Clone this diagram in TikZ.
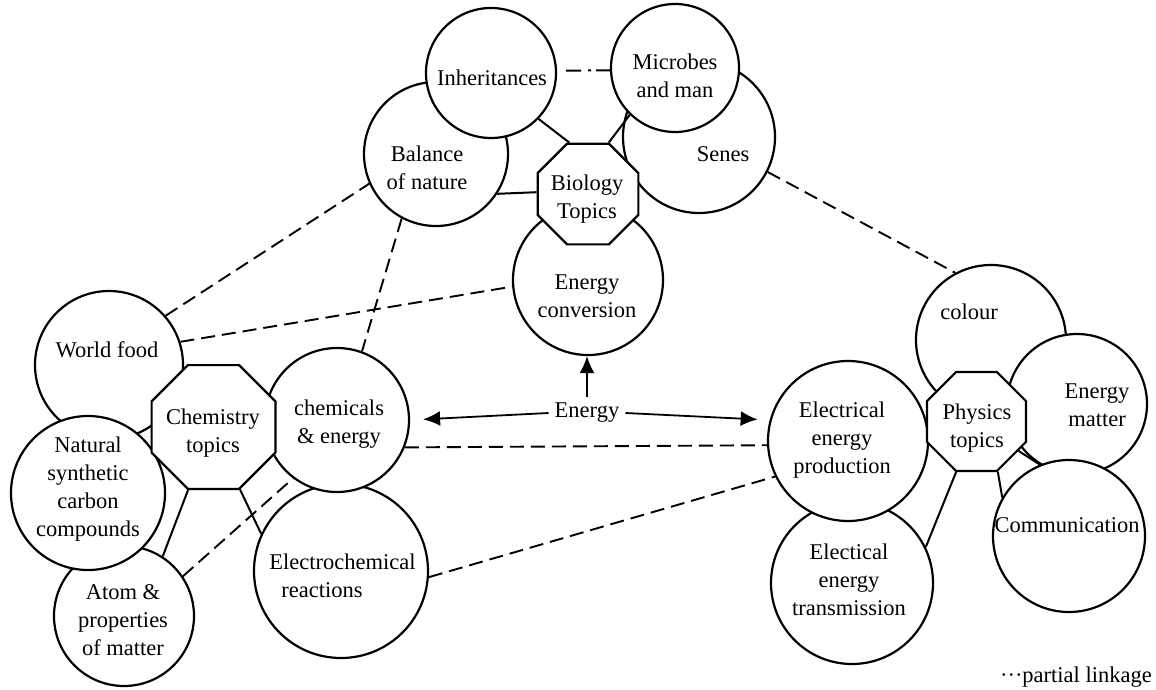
\documentclass[tikz,border=0pt]{standalone}
\usepackage{fontspec}
\setmainfont{Liberation Serif}
\usetikzlibrary{shapes.geometric,arrows.meta}
\begin{document}
\begin{tikzpicture}[x=1pt,y=-1pt,
  circ/.style={circle,draw,fill=white,line width=2.2pt,inner sep=0pt},
  octa/.style={regular polygon,regular polygon sides=8,draw,fill=white,line width=2.2pt,inner sep=0pt},
  lbl/.style={align=center,inner sep=0pt,font=\fontsize{22.5}{28}\selectfont},
  link/.style={line width=2pt},
  part/.style={line width=1.9pt,dash pattern=on 14pt off 7pt},
  arr/.style={line width=1.8pt,-{Latex[length=17pt,width=15pt]}}]
\useasboundingbox (0,0) rectangle (1156,690);
% biology cluster
\node[circ,minimum size=144pt] (bal) at (436,154) {};
\node[circ,minimum size=130pt] (inh) at (491,73) {};
\node[circ,minimum size=152pt] (sen) at (699,137) {};
\node[circ,minimum size=128pt] (mic) at (675,68) {};
\node[circ,minimum size=150pt] (econ) at (588,280) {};
\node[octa,minimum size=109pt] (bio) at (588,194) {};
% chemistry cluster
\node[circ,minimum size=148pt] (wf) at (109,365) {};
\node[circ,minimum size=140pt] (atom) at (124,616) {};
\node[circ,minimum size=154pt] (nat) at (88,493) {};
\node[circ,minimum size=174pt] (ech) at (341,571) {};
\node[circ,minimum size=144pt] (cae) at (337,420) {};
\node[octa,minimum size=134pt] (chem) at (213.5,427) {};
% physics cluster
\node[circ,minimum size=150pt] (col) at (991,340) {};
\node[circ,minimum size=140pt] (em) at (1077,404) {};
\node[circ,minimum size=152pt] (com) at (1069,536) {};
\node[circ,minimum size=162pt] (eet) at (852,583) {};
\node[circ,minimum size=160pt] (eep) at (848,441) {};
\node[octa,minimum size=107pt] (phy) at (976.5,421.5) {};
% solid links
\draw[link] (inh.-44) -- (bio.110);
\draw[link] (bal.-33) -- (bio.178);
\draw[link] (mic.-134) -- (bio.68);
\draw[link] (chem.-112.5) -- (atom.57);
\draw[link] (chem.-67.5) -- (ech.155);
\draw[link] (phy.-112.5) -- (eet.26);
\draw[link] (phy.-67.5) -- (com.150);
\draw[link] (phy.-35) -- (em.-120);
\draw[line width=2pt,dash pattern=on 15pt off 7pt on 3pt off 5pt on 20pt,shorten <=9pt] (inh.2) -- (mic.182);
% partial links
\draw[part] (wf.41) -- (bal.-156);
\draw[part] (wf.18) -- (econ.185);
\draw[part] (bal.-118) -- (cae.70);
\draw[part] (sen.-27) -- (col.118);
\draw[part] (atom.34) -- (cae.-127);
\draw[part] (cae.-22) -- (eep.183);
\draw[part] (ech.-4) -- (eep.206);
% energy
\node[lbl,inner xsep=6pt,inner ysep=6pt] (en) at (587,413) {Energy};
\draw[arr] (en.north) -- (en.north |- econ.south);
\draw[arr,shorten >=13pt] (en.west) -- (cae.east);
\draw[arr,shorten >=12pt] (en.east) -- (eep.165);
% texts
\node[lbl] (tinh) at (492,77.5) {Inheritances};
\node[lbl] (tmic) at (675,76) {Microbes\\and man};
\node[lbl] (tbal) at (427,167.5) {Balance\\of nature};
\node[lbl] (tsen) at (723,154.5) {Senes};
\node[lbl] (tbio) at (587,199) {Biology\\Topics};
\node[lbl] (tecon) at (587,296.5) {Energy\\conversion};
\node[lbl] (tcae) at (339,424) {chemicals\\\& energy};
\node[lbl] (tchem) at (213,433) {Chemistry\\topics};
\node[lbl] (twf) at (107,349.5) {World food};
\node[lbl] (tnat) at (88,489) {Natural\\synthetic\\carbon\\compounds};
\node[lbl] (tatom) at (123,620.5) {Atom \&\\properties\\of matter};
\node[lbl,align=left] (tech) at (342.5,575.5) {Electrochemical\\\hspace*{12pt}reactions};
\node[lbl] (tcol) at (969,311.5) {colour};
\node[lbl] (teep) at (842,440) {Electrical\\energy\\production};
\node[lbl] (tphy) at (977,428) {Physics\\topics};
\node[lbl] (tem) at (1097,405) {Energy\\matter};
\node[lbl] (teet) at (849,580) {Electical\\energy\\transmission};
\node[lbl] (tcom) at (1067,525.5) {Communication};
\node[lbl,anchor=east] (leg) at (1152,677.5) {···partial linkage};
\end{tikzpicture}
\end{document}
